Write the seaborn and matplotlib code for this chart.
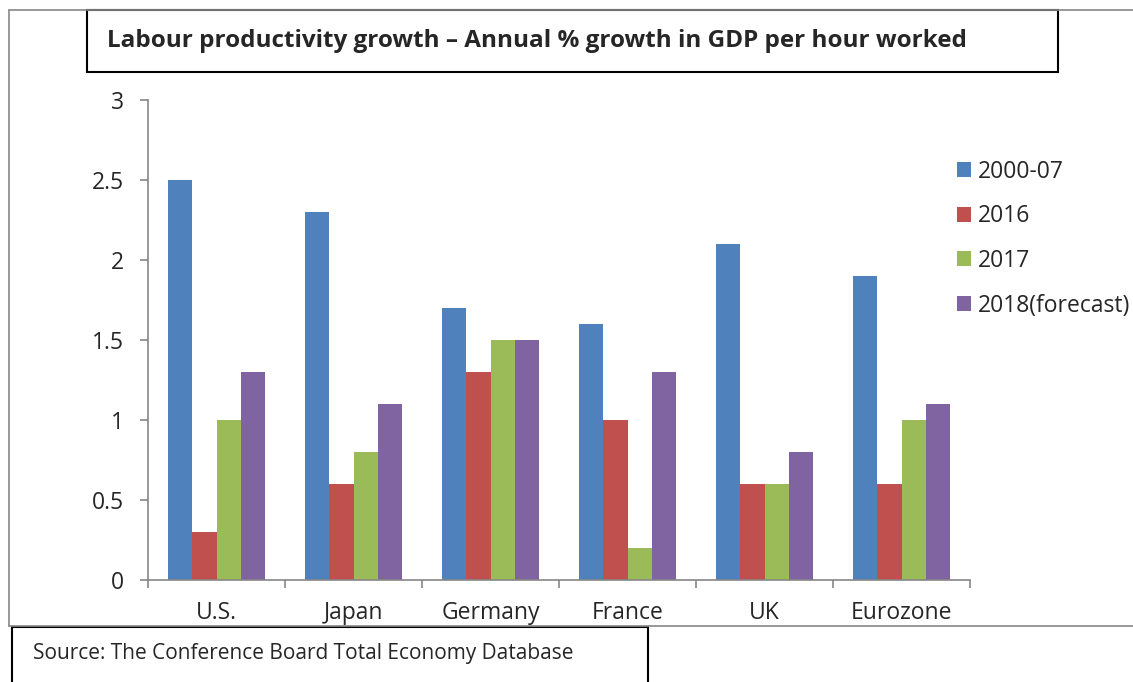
import pandas as pd
import matplotlib
matplotlib.use("Agg")
import matplotlib.pyplot as plt
from matplotlib.patches import Rectangle
from matplotlib.lines import Line2D
import seaborn as sns

# data
countries = ['U.S.', 'Japan', 'Germany', 'France', 'UK', 'Eurozone']
periods = ['2000-07', '2016', '2017', '2018(forecast)']
growth_2000_07 = [2.5, 2.3, 1.7, 1.6, 2.1, 1.9]
growth_2016 = [0.3, 0.6, 1.3, 1.0, 0.6, 0.6]
growth_2017 = [1.0, 0.8, 1.5, 0.2, 0.6, 1.0]
growth_2018 = [1.3, 1.1, 1.5, 1.3, 0.8, 1.1]
y_ticks = [0, 0.5, 1, 1.5, 2, 2.5, 3]
y_tick_labels = ['0', '0.5', '1', '1.5', '2', '2.5', '3']

colors = ['#4F81BD', '#C0504D', '#9BBB59', '#8064A2']

df = pd.DataFrame({
    'country': countries * 4,
    'period': [p for p in periods for _ in countries],
    'value': growth_2000_07 + growth_2016 + growth_2017 + growth_2018,
})

sns.set_theme(style="white")
plt.rcParams['font.family'] = ['Open Sans', 'DejaVu Sans']

W, H = 1133, 682
fig = plt.figure(figsize=(W / 100, H / 100), dpi=100)


def fx(x):
    return x / W


def fy(y):
    return 1 - y / H


ax = fig.add_axes([fx(148), fy(580), fx(970) - fx(148), fy(100) - fy(580)])
sns.barplot(data=df, x='country', y='value', hue='period', order=countries,
            hue_order=periods, palette=colors, saturation=1, width=0.715,
            linewidth=0, ax=ax, legend=True)

ax.set_xlim(-0.5, 5.5)
ax.set_ylim(0, 3)
ax.set_xlabel('')
ax.set_ylabel('')
ax.set_yticks(y_ticks)
ax.set_yticklabels(y_tick_labels, fontsize=16.5)
ax.set_xticks(range(len(countries)))
ax.set_xticklabels(countries, fontsize=16.5)
ax.set_xticks([i - 0.5 for i in range(len(countries) + 1)], minor=True)
ax.tick_params(axis='x', which='major', length=0, pad=15)
ax.tick_params(axis='x', which='minor', length=6, width=1.2, color='#868686', direction='out', bottom=True)
ax.tick_params(axis='y', length=6, width=1.2, color='#868686', direction='out', left=True, pad=11)
for side in ['top', 'right']:
    ax.spines[side].set_visible(False)
for side in ['left', 'bottom']:
    ax.spines[side].set_color('#868686')
    ax.spines[side].set_linewidth(1.2)

handles, labels = ax.get_legend_handles_labels()
ax.legend_.remove()
fig.legend(handles, labels, loc='upper left', bbox_to_anchor=(fx(936), fy(139)),
           frameon=False, fontsize=16.5, handlelength=0.62, handleheight=0.62,
           handletextpad=0.3, labelspacing=0.9)

# outer grey frame of the chart area
fig.add_artist(Line2D([fx(9), fx(9)], [fy(10), fy(626)], color='#888888', lw=1.2))
fig.add_artist(Line2D([fx(9), 1], [fy(10), fy(10)], color='#888888', lw=1.2))
fig.add_artist(Line2D([fx(9), 1], [fy(626), fy(626)], color='#888888', lw=1.2))

# title box
fig.add_artist(Rectangle((fx(87), fy(72)), fx(1058) - fx(87), fy(10) - fy(72),
                         facecolor='white', edgecolor='black', lw=1.5))
fig.text(fx(107), fy(41), 'Labour productivity growth \u2013 Annual % growth in GDP per hour worked',
         fontsize=17.5, fontweight='bold', va='center', ha='left')

# source box
fig.add_artist(Rectangle((fx(12), fy(690)), fx(648) - fx(12), fy(627) - fy(690),
                         facecolor='white', edgecolor='black', lw=1.5))
fig.text(fx(33), fy(654), 'Source: The Conference Board Total Economy Database',
         fontsize=15, va='center', ha='left')

fig.savefig('out.png', dpi=100)
